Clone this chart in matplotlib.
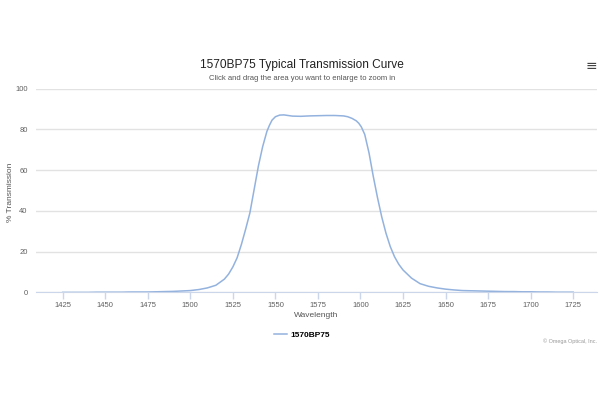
import matplotlib

matplotlib.use('agg')
import matplotlib.pyplot as plt

plt.rcParams['font.family'] = ['Liberation Sans', 'DejaVu Sans']

# values
wavelength = [1425, 1430, 1435, 1440, 1445, 1450, 1455, 1460, 1465, 1470,
              1475, 1480, 1485, 1490, 1495, 1500, 1505, 1510, 1515, 1520,
              1522.5, 1525, 1527.5, 1530, 1532.5, 1535, 1537.5, 1540, 1542.5,
              1545, 1546.5, 1548, 1550, 1552.5, 1555, 1560, 1565, 1570, 1575,
              1580, 1585, 1590, 1592.5, 1595, 1597.5, 1599, 1600.5, 1602.5,
              1605, 1607.5, 1610, 1612.5, 1615, 1617.5, 1620, 1622.5, 1625,
              1630, 1635, 1640, 1645, 1650, 1655, 1660, 1665, 1670, 1675,
              1680, 1685, 1690, 1695, 1700, 1705, 1710, 1715, 1720, 1725]
transmission = [0.0, 0.0, 0.0, 0.0, 0.1, 0.1, 0.1, 0.1, 0.2, 0.2,
                0.2, 0.3, 0.4, 0.5, 0.7, 0.9, 1.4, 2.2, 3.5, 6.5,
                9.0, 12.5, 17.0, 23.5, 31.0, 39.0, 50.5, 62.0, 71.5,
                79.0, 82.0, 84.5, 86.2, 87.0, 87.1, 86.5, 86.4, 86.6, 86.7,
                86.8, 86.8, 86.6, 86.2, 85.4, 84.2, 83.0, 81.2, 77.5,
                68.5, 57.0, 46.5, 37.0, 29.0, 22.5, 17.5, 13.8, 11.0,
                7.0, 4.3, 3.0, 2.2, 1.6, 1.2, 0.9, 0.8, 0.7, 0.6,
                0.5, 0.4, 0.4, 0.3, 0.3, 0.2, 0.2, 0.1, 0.1, 0.1]
x_ticks = [1425, 1450, 1475, 1500, 1525, 1550, 1575, 1600, 1625, 1650,
           1675, 1700, 1725]
y_ticks = [0, 20, 40, 60, 80, 100]
series_name = '1570BP75'

fig = plt.figure(figsize=(6, 4), dpi=100)
ax = fig.add_axes([0.06, 0.269, 0.935, 0.5095])

ax.plot(wavelength, transmission, color='#93b2de', linewidth=1.1,
        label=series_name, solid_joinstyle='round')

ax.set_xlim(1409.3, 1739)
ax.set_ylim(0, 100)
ax.set_xticks(x_ticks)
ax.set_yticks(y_ticks)
ax.grid(axis='y', color='#e2e2e2', linewidth=1)
ax.set_axisbelow(True)

for side in ['top', 'right', 'left']:
    ax.spines[side].set_visible(False)
ax.spines['bottom'].set_color('#ccd6eb')
ax.tick_params(axis='x', colors='#ccd6eb', length=5, width=1,
               labelcolor='#606060', labelsize=5.5, pad=2)
ax.tick_params(axis='y', length=0, labelcolor='#606060', labelsize=5.5,
               pad=6)

ax.set_xlabel('Wavelength', fontsize=6, color='#555555', labelpad=2)
ax.set_ylabel('% Transmission', fontsize=6, color='#555555')
ax.yaxis.set_label_coords(-0.04, 0.49)

fig.text(0.503, 0.838, '1570BP75 Typical Transmission Curve',
         ha='center', va='center', fontsize=8.6, color='#222222')
fig.text(0.503, 0.803, 'Click and drag the area you want to enlarge to zoom in',
         ha='center', va='center', fontsize=5.5, color='#555555')
fig.text(0.985, 0.835, '\u2261', ha='center', va='center', fontsize=10,
         color='#444444', family='DejaVu Sans')
fig.text(0.995, 0.148, '\u00a9 Omega Optical, Inc.', ha='right',
         va='center', fontsize=4, color='#999999')

fig.legend(loc='center', bbox_to_anchor=(0.503, 0.163), frameon=False,
           handlelength=1.5, handletextpad=0.4,
           prop={'size': 6, 'weight': 'bold'})

fig.savefig('out.png', dpi=100, facecolor='white')
